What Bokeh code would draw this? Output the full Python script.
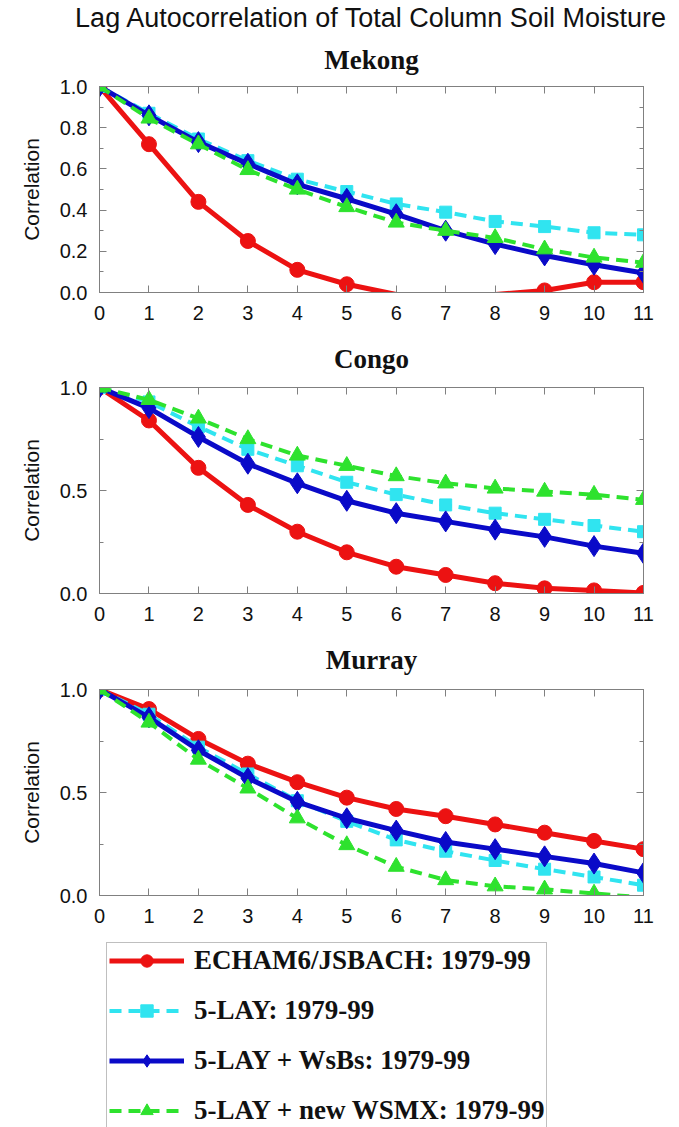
from bokeh.plotting import figure
from bokeh.models import (Range1d, FixedTicker, PrintfTickFormatter, LinearAxis,
                          Title, Legend, LegendItem)
from bokeh.layouts import column
from bokeh.embed import file_html
from bokeh.resources import INLINE

# ---------------- data ----------------
lags = list(range(12))
series_names = ["ECHAM6/JSBACH: 1979-99", "5-LAY: 1979-99",
                "5-LAY + WsBs: 1979-99", "5-LAY + new WSMX: 1979-99"]

mekong_echam = [1.0, 0.72, 0.44, 0.25, 0.11, 0.04, -0.01, -0.03, -0.01, 0.01, 0.05, 0.05]
mekong_5lay = [1.0, 0.87, 0.745, 0.64, 0.55, 0.49, 0.43, 0.39, 0.345, 0.32, 0.29, 0.28]
mekong_wsbs = [1.0, 0.86, 0.73, 0.625, 0.525, 0.455, 0.38, 0.30, 0.235, 0.18, 0.135, 0.095]
mekong_wsmx = [1.0, 0.845, 0.72, 0.595, 0.50, 0.415, 0.34, 0.30, 0.265, 0.21, 0.17, 0.145]

congo_echam = [1.0, 0.84, 0.61, 0.43, 0.30, 0.20, 0.13, 0.09, 0.05, 0.025, 0.015, 0.003]
congo_5lay = [1.0, 0.93, 0.81, 0.70, 0.62, 0.54, 0.48, 0.43, 0.39, 0.36, 0.33, 0.30]
congo_wsbs = [1.0, 0.90, 0.76, 0.63, 0.535, 0.45, 0.39, 0.35, 0.31, 0.275, 0.23, 0.195]
congo_wsmx = [1.0, 0.94, 0.85, 0.75, 0.67, 0.62, 0.57, 0.535, 0.51, 0.495, 0.48, 0.455]

murray_echam = [1.0, 0.905, 0.76, 0.64, 0.55, 0.475, 0.42, 0.385, 0.345, 0.305, 0.265, 0.225]
murray_5lay = [1.0, 0.88, 0.72, 0.59, 0.46, 0.36, 0.27, 0.215, 0.17, 0.128, 0.09, 0.05]
murray_wsbs = [1.0, 0.865, 0.705, 0.57, 0.455, 0.375, 0.315, 0.26, 0.225, 0.19, 0.155, 0.11]
murray_wsmx = [1.0, 0.84, 0.66, 0.52, 0.375, 0.245, 0.14, 0.075, 0.045, 0.03, 0.01, -0.01]

panel_titles = ["Mekong", "Congo", "Murray"]
main_title = "Lag Autocorrelation of Total Column Soil Moisture"
y_label = "Correlation"

# ---------------- styles ----------------
colors = ["#ec1212", "#30e4f0", "#0a0ac8", "#2ee22e"]
widths = [5, 4, 5, 4]
dashes = ["solid", "12 7", "solid", "12 7"]
markers = ["circle", "square", "diamond", "triangle"]
msizes = [15, 12, 21, 16]
GRAY = "#808080"
SANS = "Liberation Sans"
SERIF = "Liberation Serif"
W = 679
FRAME_H = 206


def tick_style(ax):
    ax.axis_line_color = GRAY
    ax.major_tick_line_color = GRAY
    ax.minor_tick_line_color = GRAY
    ax.major_tick_in = 7
    ax.major_tick_out = 0
    ax.minor_tick_in = 4
    ax.minor_tick_out = 0


def style_axes(p, major, minor):
    p.xaxis.ticker = FixedTicker(ticks=lags, minor_ticks=[])
    p.yaxis.ticker = FixedTicker(ticks=major, minor_ticks=minor)
    p.yaxis.formatter = PrintfTickFormatter(format="%.1f")
    for ax in (p.xaxis[0], p.yaxis[0]):
        tick_style(ax)
        ax.major_label_text_font = SANS
        ax.major_label_text_font_size = "20px"
        ax.major_label_text_color = "#111111"
    p.xaxis.major_label_standoff = 13
    p.yaxis.major_label_standoff = 12
    p.yaxis.axis_label = y_label
    p.yaxis.axis_label_text_font = SANS
    p.yaxis.axis_label_text_font_size = "21px"
    p.yaxis.axis_label_text_font_style = "normal"
    p.yaxis.axis_label_text_color = "#111111"
    p.yaxis.axis_label_standoff = 14
    # mirrored tick axes (top / right) without labels
    top = LinearAxis(ticker=FixedTicker(ticks=lags, minor_ticks=[]))
    right = LinearAxis(ticker=FixedTicker(ticks=major, minor_ticks=minor))
    for ax in (top, right):
        tick_style(ax)
        ax.major_label_text_color = None
        ax.major_label_text_font_size = "1px"
        ax.major_label_standoff = 0
    p.add_layout(top, "above")
    p.add_layout(right, "right")


def panel_title_style(t, title, standoff):
    t.text = title
    t.text_font = SERIF
    t.text_font_style = "bold"
    t.text_font_size = "27px"
    t.align = "center"
    t.vertical_align = "top"
    t.text_color = "#111111"
    t.standoff = standoff


def make_panel(top_border, bottom_border, title, title_standoff, data, major, minor,
               main=None):
    p = figure(width=W, height=top_border + FRAME_H + bottom_border,
               x_range=Range1d(0, 11), y_range=Range1d(0, 1),
               output_backend="svg", toolbar_location=None,
               min_border_left=99, min_border_right=36,
               min_border_top=top_border, min_border_bottom=bottom_border)
    p.grid.visible = False
    p.outline_line_color = GRAY
    p.outline_line_width = 1
    p.background_fill_color = "white"
    p.border_fill_color = "white"
    style_axes(p, major, minor)
    if main is None:
        panel_title_style(p.title, title, title_standoff)
    else:
        # the figure title (outermost) carries the overall heading
        p.title.text = main
        p.title.text_font = SANS
        p.title.text_font_size = "27px"
        p.title.text_font_style = "normal"
        p.title.align = "center"
        p.title.vertical_align = "top"
        p.title.text_color = "#111111"
        p.title.standoff = 0
        t = Title()
        panel_title_style(t, title, title_standoff)
        p.add_layout(t, "above")
    for vals, c, w, d, m, s in zip(data, colors, widths, dashes, markers, msizes):
        p.line(lags, vals, line_color=c, line_width=w, line_dash=d)
        xs = [x for x, v in zip(lags, vals) if v >= 0]
        ys = [v for v in vals if v >= 0]
        p.scatter(xs, ys, marker=m, size=s, fill_color=c, line_color=c)
    return p


p1 = make_panel(86, 38, panel_titles[0], 20,
                [mekong_echam, mekong_5lay, mekong_wsbs, mekong_wsmx],
                [0, 0.2, 0.4, 0.6, 0.8, 1.0], [0.1, 0.3, 0.5, 0.7, 0.9],
                main=main_title)
p2 = make_panel(57, 37, panel_titles[1], 24,
                [congo_echam, congo_5lay, congo_wsbs, congo_wsmx],
                [0, 0.5, 1.0], [0.25, 0.75])
p3 = make_panel(59, 38, panel_titles[2], 26,
                [murray_echam, murray_5lay, murray_wsbs, murray_wsmx],
                [0, 0.5, 1.0], [0.25, 0.75])

# legend panel: renderers built from the Murray data, kept outside the visible range
LH = 1127 - (p1.height + p2.height + p3.height)
p4 = figure(width=W, height=LH, x_range=Range1d(100, 101), y_range=Range1d(100, 101),
            output_backend="svg", toolbar_location=None,
            x_axis_location=None, y_axis_location=None,
            min_border_left=0, min_border_right=0, min_border_top=0, min_border_bottom=0)
p4.grid.visible = False
p4.outline_line_color = None
items = []
for name, vals, c, w, d, m, s in zip(series_names,
                                     [murray_echam, murray_5lay, murray_wsbs, murray_wsmx],
                                     colors, widths, dashes, markers, msizes):
    r1 = p4.line(lags, vals, line_color=c, line_width=w, line_dash=d)
    r2 = p4.scatter(lags, vals, marker=m, size=s, fill_color=c, line_color=c)
    items.append(LegendItem(label=name, renderers=[r1, r2]))
ITEM_H, SPACING, PAD = 31, 19, 2
legend_h = 2 * PAD + 4 * ITEM_H + 3 * SPACING
legend = Legend(items=items, location=(7, LH - 11 - legend_h), orientation="vertical",
                label_text_font=SERIF, label_text_font_style="bold",
                label_text_font_size="27px", label_text_color="#111111",
                glyph_width=75, glyph_height=ITEM_H, label_height=ITEM_H, label_standoff=10,
                spacing=SPACING, padding=PAD, margin=0,
                border_line_color=GRAY, border_line_width=1,
                background_fill_color="white", background_fill_alpha=1.0)
p4.add_layout(legend, "center")

layout = column(p1, p2, p3, p4, spacing=0)
open("out.html", "w").write(file_html(layout, INLINE))
